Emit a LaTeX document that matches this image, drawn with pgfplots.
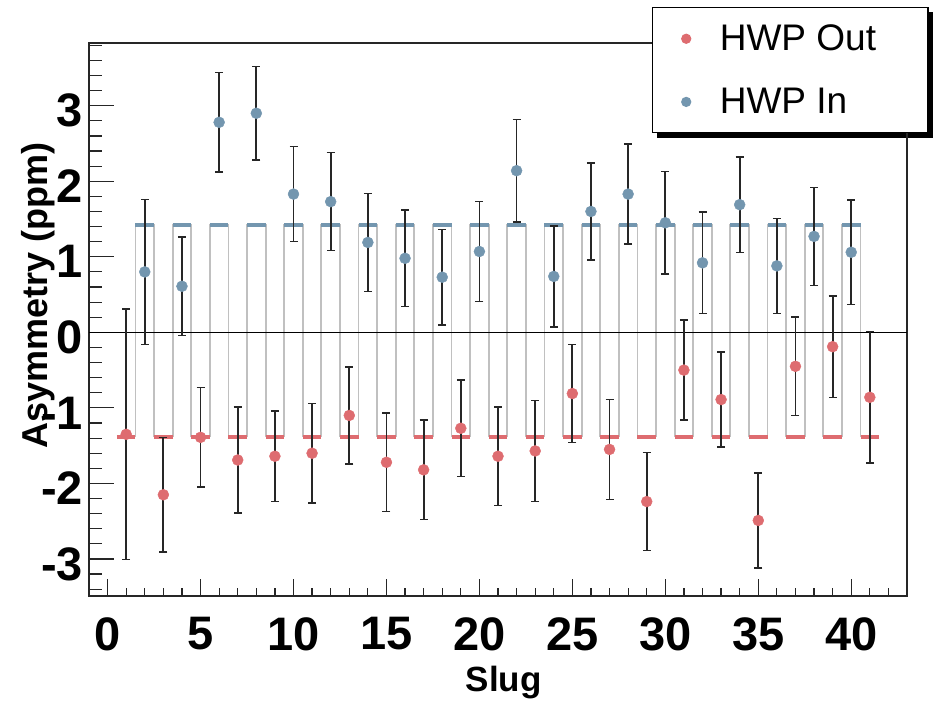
\documentclass[border=0pt]{standalone}
\usepackage{fontspec}
\setmainfont{Liberation Sans}
\usepackage{pgfplots}
\pgfplotsset{compat=1.18}
\definecolor{hwpred}{RGB}{222,108,112}
\definecolor{hwpblue}{RGB}{115,150,175}
\definecolor{stepgray}{RGB}{192,192,192}
\begin{document}
\begin{tikzpicture}
\useasboundingbox (0,0) rectangle (934pt,703pt);
% legend shadow
\fill[black] (657pt,565pt) rectangle (933pt,691pt);
% axis carrying the y ticks and the y title
\begin{axis}[
 at={(89pt,107pt)}, anchor=south west,
 width=818pt, height=553pt, scale only axis,
 xmin=-1, xmax=43, ymin=-3.49, ymax=3.83,
 hide x axis,
 axis line style={line width=1.2pt, black!85},
 ytick={-3,-2,-1,0,1,2,3},
 yticklabels={-3,-2,-1,0,1,2,3},
 minor ytick={-3.4,-3.2,-2.8,-2.6,-2.4,-2.2,-1.8,-1.6,-1.4,-1.2,-0.8,-0.6,-0.4,-0.2,0.2,0.4,0.6,0.8,1.2,1.4,1.6,1.8,2.2,2.4,2.6,2.8,3.2,3.4,3.6,3.8},
 ytick pos=left, tick align=inside,
 major tick length=25pt, minor tick length=13pt,
 tick style={line width=1.2pt, black!85},
 yticklabel style={font=\fontsize{47}{47}\selectfont\bfseries, inner sep=0pt, xshift=-6pt, yshift=-5pt},
 ylabel={Asymmetry (ppm)},
 ylabel style={font=\fontsize{36}{36}\selectfont\bfseries, at={(axis description cs:-0.0513,0.544)}, anchor=base},
]
\addplot[draw=none, forget plot] coordinates {(0,0)};
\end{axis}
% main axis
\begin{axis}[
 at={(89pt,107pt)}, anchor=south west,
 width=818pt, height=553pt, scale only axis,
 xmin=-1, xmax=43, ymin=-3.49, ymax=3.83,
 axis line style={line width=1.2pt, black!85},
 ytick=\empty,
 xtick={0,5,10,15,20,25,30,35,40},
 xticklabels={0,5,10,15,20,25,30,35,40},
 minor xtick={-1,1,2,3,4,6,7,8,9,11,12,13,14,16,17,18,19,21,22,23,24,26,27,28,29,31,32,33,34,36,37,38,39,41,42},
 xtick pos=left, tick align=inside,
 major tick length=17pt, minor tick length=8pt,
 tick style={line width=1.2pt, black!85},
 xticklabel style={font=\fontsize{47}{47}\selectfont\bfseries, inner sep=0pt, yshift=-21pt},
 xlabel={Slug},
 xlabel style={font=\fontsize{35}{35}\selectfont\bfseries, at={(axis description cs:0.507,-0.1736)}, anchor=base},
 unbounded coords=jump,
 legend cell align=left,
 legend style={at={(axis description cs:0.6883,1.0651)}, anchor=north west, draw=black, line width=1.2pt, fill=white, inner xsep=25pt, inner ysep=17.5pt, row sep=36pt, font=\fontsize{37}{37}\selectfont, nodes={inner sep=0pt}},
 legend image code/.code={\path (-8pt,0pt) (33pt,0pt); \draw[#1, mark size=4.5pt] plot coordinates {(0pt,0pt)};},
]
% grey step line
\addplot[const plot, draw=stepgray, line width=1.8pt, forget plot] coordinates {
(0.5,-1.38) (1.5,1.42) (2.5,-1.38) (3.5,1.42) (4.5,-1.38) (5.5,1.42) (6.5,-1.38) (7.5,1.42) (8.5,-1.38) (9.5,1.42)
(10.5,-1.38) (11.5,1.42) (12.5,-1.38) (13.5,1.42) (14.5,-1.38) (15.5,1.42) (16.5,-1.38) (17.5,1.42) (18.5,-1.38) (19.5,1.42)
(20.5,-1.38) (21.5,1.42) (22.5,-1.38) (23.5,1.42) (24.5,-1.38) (25.5,1.42) (26.5,-1.38) (27.5,1.42) (28.5,-1.38) (29.5,1.42)
(30.5,-1.38) (31.5,1.42) (32.5,-1.38) (33.5,1.42) (34.5,-1.38) (35.5,1.42) (36.5,-1.38) (37.5,1.42) (38.5,-1.38) (39.5,1.42)
(40.5,-1.38) (41.5,-1.38)};
% zero line
\addplot[black, line width=1.5pt, forget plot] coordinates {(-1,0) (43,0)};
% red level segments
\addplot[hwpred, line width=4pt, forget plot] coordinates {
(0.5,-1.38)(1.5,-1.38)(2,nan)
(2.5,-1.38)(3.5,-1.38)(4,nan)
(4.5,-1.38)(5.5,-1.38)(6,nan)
(6.5,-1.38)(7.5,-1.38)(8,nan)
(8.5,-1.38)(9.5,-1.38)(10,nan)
(10.5,-1.38)(11.5,-1.38)(12,nan)
(12.5,-1.38)(13.5,-1.38)(14,nan)
(14.5,-1.38)(15.5,-1.38)(16,nan)
(16.5,-1.38)(17.5,-1.38)(18,nan)
(18.5,-1.38)(19.5,-1.38)(20,nan)
(20.5,-1.38)(21.5,-1.38)(22,nan)
(22.5,-1.38)(23.5,-1.38)(24,nan)
(24.5,-1.38)(25.5,-1.38)(26,nan)
(26.5,-1.38)(27.5,-1.38)(28,nan)
(28.5,-1.38)(29.5,-1.38)(30,nan)
(30.5,-1.38)(31.5,-1.38)(32,nan)
(32.5,-1.38)(33.5,-1.38)(34,nan)
(34.5,-1.38)(35.5,-1.38)(36,nan)
(36.5,-1.38)(37.5,-1.38)(38,nan)
(38.5,-1.38)(39.5,-1.38)(40,nan)
(40.5,-1.38)(41.5,-1.38)};
% blue level segments
\addplot[hwpblue, line width=4pt, forget plot] coordinates {
(1.5,1.42)(2.5,1.42)(3,nan)
(3.5,1.42)(4.5,1.42)(5,nan)
(5.5,1.42)(6.5,1.42)(7,nan)
(7.5,1.42)(8.5,1.42)(9,nan)
(9.5,1.42)(10.5,1.42)(11,nan)
(11.5,1.42)(12.5,1.42)(13,nan)
(13.5,1.42)(14.5,1.42)(15,nan)
(15.5,1.42)(16.5,1.42)(17,nan)
(17.5,1.42)(18.5,1.42)(19,nan)
(19.5,1.42)(20.5,1.42)(21,nan)
(21.5,1.42)(22.5,1.42)(23,nan)
(23.5,1.42)(24.5,1.42)(25,nan)
(25.5,1.42)(26.5,1.42)(27,nan)
(27.5,1.42)(28.5,1.42)(29,nan)
(29.5,1.42)(30.5,1.42)(31,nan)
(31.5,1.42)(32.5,1.42)(33,nan)
(33.5,1.42)(34.5,1.42)(35,nan)
(35.5,1.42)(36.5,1.42)(37,nan)
(37.5,1.42)(38.5,1.42)(39,nan)
(39.5,1.42)(40.5,1.42)};
% HWP Out
\addplot[only marks, mark=*, mark size=5.5pt, color=hwpred, mark options={draw=hwpred, fill=hwpred},
 error bars/.cd, y dir=both, y explicit,
 error bar style={color=black!85, line width=1.8pt},
 error mark options={rotate=90, mark size=4pt, color=black!85, line width=1.5pt}]
coordinates {
(1,-1.35) +- (0,1.66)
(3,-2.15) +- (0,0.76)
(5,-1.39) +- (0,0.66)
(7,-1.69) +- (0,0.70)
(9,-1.64) +- (0,0.60)
(11,-1.60) +- (0,0.66)
(13,-1.10) +- (0,0.64)
(15,-1.72) +- (0,0.65)
(17,-1.82) +- (0,0.66)
(19,-1.27) +- (0,0.64)
(21,-1.64) +- (0,0.65)
(23,-1.57) +- (0,0.67)
(25,-0.81) +- (0,0.65)
(27,-1.55) +- (0,0.66)
(29,-2.24) +- (0,0.65)
(31,-0.50) +- (0,0.66)
(33,-0.89) +- (0,0.63)
(35,-2.49) +- (0,0.63)
(37,-0.45) +- (0,0.65)
(39,-0.19) +- (0,0.67)
(41,-0.86) +- (0,0.87)
};
\addlegendentry{HWP Out\rule{27pt}{0pt}}
% HWP In
\addplot[only marks, mark=*, mark size=5.5pt, color=hwpblue, mark options={draw=hwpblue, fill=hwpblue},
 error bars/.cd, y dir=both, y explicit,
 error bar style={color=black!85, line width=1.8pt},
 error mark options={rotate=90, mark size=4pt, color=black!85, line width=1.5pt}]
coordinates {
(2,0.80) +- (0,0.96)
(4,0.61) +- (0,0.65)
(6,2.78) +- (0,0.66)
(8,2.90) +- (0,0.62)
(10,1.83) +- (0,0.63)
(12,1.73) +- (0,0.65)
(14,1.19) +- (0,0.65)
(16,0.98) +- (0,0.64)
(18,0.73) +- (0,0.63)
(20,1.07) +- (0,0.66)
(22,2.14) +- (0,0.68)
(24,0.74) +- (0,0.67)
(26,1.60) +- (0,0.64)
(28,1.83) +- (0,0.66)
(30,1.45) +- (0,0.68)
(32,0.92) +- (0,0.67)
(34,1.69) +- (0,0.63)
(36,0.88) +- (0,0.63)
(38,1.27) +- (0,0.65)
(40,1.06) +- (0,0.69)
};
\addlegendentry{HWP In}
\end{axis}
\end{tikzpicture}
\end{document}
